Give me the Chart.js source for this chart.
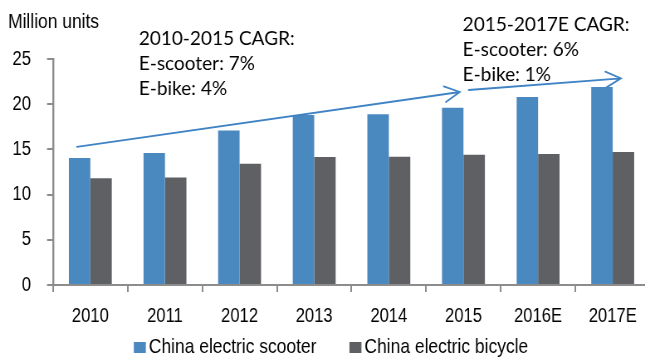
<!DOCTYPE html>
<html>
<head>
<meta charset="utf-8">
<script src="https://cdn.jsdelivr.net/npm/chart.js@4/dist/chart.umd.min.js"></script>
<style>
  html, body { margin: 0; padding: 0; background: #fff; overflow: hidden; }
  #wrap { width: 645px; height: 358px; overflow: hidden; }
</style>
</head>
<body>
<div id="wrap"><canvas id="chart"></canvas></div>
<script>
// --- datos ---
const years = ['2010', '2011', '2012', '2013', '2014', '2015', '2016E', '2017E'];
const scooterUnits = [14.05, 14.6, 17.1, 18.8, 18.9, 19.6, 20.8, 21.9];
const bicycleUnits = [11.8, 11.9, 13.4, 14.15, 14.2, 14.4, 14.5, 14.7];
const yTicks = [0, 5, 10, 15, 20, 25];
const unitLabel = 'Million units';

// notas de CAGR (ancladas en unidades de datos: índice de categoría, valor)
const cagrNotes = [
    { at: [0.65, 26.5], lines: ['2010-2015 CAGR:', 'E-scooter: 7%', 'E-bike: 4%'] },
    { at: [4.99, 28.1], lines: ['2015-2017E CAGR:', 'E-scooter: 6%', 'E-bike: 1%'] }
];
const cagrArrows = [
    { from: [-0.18, 15.27], to: [4.95, 21.35] },
    { from: [5.07, 21.57], to: [7.11, 22.86] }
];

// la fuente del original es estrecha: se dibuja más ancho y se comprime con CSS
const K = 0.83;
const canvas = document.getElementById('chart');
canvas.width = Math.round(650 / K);
canvas.height = 358;
canvas.style.width = '650px';
canvas.style.height = '358px';

const axisGrey = '#8c8c8c';
const sans = '"Liberation Sans", Arial, sans-serif';
const tickFont = { family: sans, size: 20 };

// --- plugin: unidad, notas, flechas y leyenda ---
const cagrPlugin = {
    id: 'cagr',
    afterDatasetsDraw(chart) {
        const { ctx, scales: { x, y } } = chart;
        ctx.save();

        ctx.fillStyle = '#000';
        ctx.font = '21px ' + sans;
        ctx.textBaseline = 'alphabetic';
        ctx.textAlign = 'left';
        ctx.fillText(unitLabel, 8 / K, 28);

        // las notas no van comprimidas
        ctx.font = '19px Lato, "Open Sans", sans-serif';
        cagrNotes.forEach(note => {
            const px = x.getPixelForValue(note.at[0]);
            const py = y.getPixelForValue(note.at[1]);
            ctx.save();
            ctx.translate(px, py);
            ctx.scale(1 / K, 1);
            note.lines.forEach((line, i) => ctx.fillText(line, 0, i * 25));
            ctx.restore();
        });

        ctx.strokeStyle = '#3f83c4';
        ctx.lineWidth = 1.8;
        ctx.lineCap = 'round';
        cagrArrows.forEach(a => {
            const x1 = x.getPixelForValue(a.from[0]) * K, y1 = y.getPixelForValue(a.from[1]);
            const x2 = x.getPixelForValue(a.to[0]) * K, y2 = y.getPixelForValue(a.to[1]);
            const ang = Math.atan2(y2 - y1, x2 - x1);
            const head = 17, spread = Math.PI / 6.5;
            ctx.save();
            ctx.scale(1 / K, 1);
            ctx.beginPath();
            ctx.moveTo(x1, y1);
            ctx.lineTo(x2, y2);
            ctx.moveTo(x2 - head * Math.cos(ang - spread), y2 - head * Math.sin(ang - spread));
            ctx.lineTo(x2, y2);
            ctx.lineTo(x2 - head * Math.cos(ang + spread), y2 - head * Math.sin(ang + spread));
            ctx.restore();
            ctx.stroke();
        });

        // leyenda
        ctx.font = '21px ' + sans;
        const box = 12 / K, gap = 3 / K, itemGap = 33 / K;
        const items = chart.data.datasets.map(ds => ({ text: ds.label, color: ds.backgroundColor, w: ctx.measureText(ds.label).width }));
        const total = items.reduce((s, it) => s + box + gap + it.w, 0) + itemGap * (items.length - 1);
        let cx = chart.width / 2 + 6 / K - total / 2;
        const base = 353;
        items.forEach(it => {
            ctx.fillStyle = it.color;
            ctx.fillRect(cx, base - 11, box, 11);
            ctx.fillStyle = '#000';
            ctx.fillText(it.text, cx + box + gap, base);
            cx += box + gap + it.w + itemGap;
        });
        ctx.restore();
    }
};

new Chart(canvas, {
    type: 'bar',
    data: {
        labels: years,
        datasets: [
            { label: 'China electric scooter', data: scooterUnits, backgroundColor: '#4a88c0' },
            { label: 'China electric bicycle', data: bicycleUnits, backgroundColor: '#5f6064' }
        ]
    },
    options: {
        responsive: false,
        animation: false,
        devicePixelRatio: 1,
        categoryPercentage: 0.575,
        barPercentage: 1,
        layout: { padding: { top: 59, left: 0, right: 0, bottom: 18 } },
        scales: {
            x: {
                grid: { drawOnChartArea: false, drawTicks: true, tickLength: 7, color: axisGrey, lineWidth: 2 },
                border: { color: axisGrey, width: 2 },
                ticks: { color: '#000', font: tickFont, padding: 12, maxRotation: 0 }
            },
            y: {
                min: 0,
                max: 25,
                afterBuildTicks: scale => { scale.ticks = yTicks.map(v => ({ value: v })); },
                afterFit: scale => { scale.width = 53 / K; },
                grid: { drawOnChartArea: false, drawTicks: true, tickLength: 6 / K, color: axisGrey, lineWidth: 2 },
                border: { color: axisGrey, width: 2 / K },
                ticks: { color: '#000', font: tickFont, padding: 16 / K }
            }
        },
        plugins: {
            legend: { display: false },
            tooltip: { enabled: false }
        }
    },
    plugins: [cagrPlugin]
});
</script>
</body>
</html>
